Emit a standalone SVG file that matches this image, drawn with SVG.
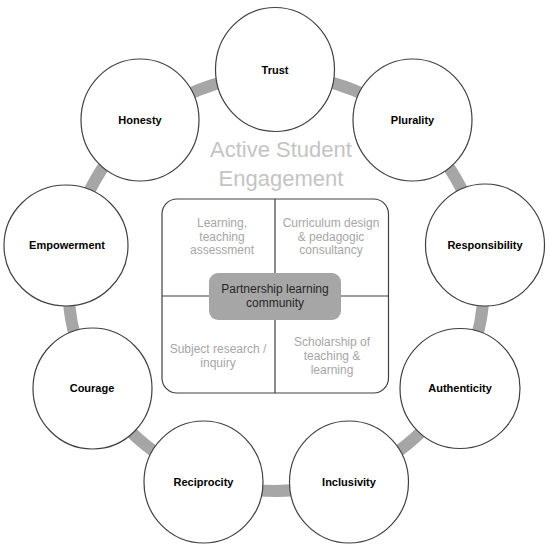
<svg xmlns="http://www.w3.org/2000/svg" width="550" height="549" viewBox="0 0 550 549">
<style>
.node{fill:#ffffff;stroke:#404040;stroke-width:1.2}
.lbl{font-family:"Liberation Sans",Arial,sans-serif;font-weight:bold;font-size:11px;fill:#000000;text-anchor:middle}
.ring{fill:none;stroke:#a6a6a6;stroke-width:12}
.quad{font-family:"Liberation Sans",Arial,sans-serif;font-size:12px;fill:#a6a6a6;text-anchor:middle}
.title{font-family:"Liberation Sans",Arial,sans-serif;font-size:22px;fill:#c4c4c4;text-anchor:middle}
.div{stroke:#404040;stroke-width:1.2;fill:none}
.core{font-family:"Liberation Sans",Arial,sans-serif;font-size:12px;fill:#262626;text-anchor:middle}
</style>
<rect width="550" height="549" fill="#ffffff"/>
<g id="connectors">
<circle class="ring" cx="276" cy="283" r="208"/>
</g>
<g id="trust"><ellipse class="node" cx="275" cy="69.5" rx="59.5" ry="62"/><text class="lbl" x="275" y="74">Trust</text></g>
<g id="plurality"><ellipse class="node" cx="412.5" cy="120" rx="59.5" ry="61"/><text class="lbl" x="412.5" y="124">Plurality</text></g>
<g id="responsibility"><ellipse class="node" cx="485" cy="245" rx="59.5" ry="61"/><text class="lbl" x="485" y="249">Responsibility</text></g>
<g id="authenticity"><ellipse class="node" cx="460" cy="388.5" rx="60" ry="60"/><text class="lbl" x="460" y="392">Authenticity</text></g>
<g id="inclusivity"><ellipse class="node" cx="349" cy="482" rx="59.5" ry="61"/><text class="lbl" x="349" y="486">Inclusivity</text></g>
<g id="reciprocity"><ellipse class="node" cx="203.5" cy="482" rx="59.5" ry="61"/><text class="lbl" x="203.5" y="486">Reciprocity</text></g>
<g id="courage"><ellipse class="node" cx="92.5" cy="388.5" rx="59.5" ry="60.5"/><text class="lbl" x="92" y="392">Courage</text></g>
<g id="empowerment"><ellipse class="node" cx="66" cy="245.5" rx="62" ry="60.5"/><text class="lbl" x="67" y="249">Empowerment</text></g>
<g id="honesty"><ellipse class="node" cx="140" cy="120" rx="59" ry="61"/><text class="lbl" x="140" y="124">Honesty</text></g>
<g id="title">
<text class="title" x="281" y="157">Active Student</text>
<text class="title" x="281" y="186">Engagement</text>
</g>
<g id="centre-box">
<rect x="162" y="199" width="226.5" height="194" rx="15" ry="15" fill="#ffffff" stroke="#404040" stroke-width="1.2"/>
<line class="div" x1="275" y1="199" x2="275" y2="393"/>
<line class="div" x1="162" y1="296" x2="388.5" y2="296"/>
</g>
<g id="q-learning"><text class="quad" x="222" y="227">Learning,</text><text class="quad" x="222" y="240.5">teaching</text><text class="quad" x="222" y="254">assessment</text></g>
<g id="q-curriculum"><text class="quad" x="331" y="227">Curriculum design</text><text class="quad" x="331" y="240.5">&amp; pedagogic</text><text class="quad" x="331" y="254">consultancy</text></g>
<g id="q-subject"><text class="quad" x="218" y="353">Subject research /</text><text class="quad" x="218" y="367">inquiry</text></g>
<g id="q-scholarship"><text class="quad" x="332" y="346">Scholarship of</text><text class="quad" x="332" y="360">teaching &amp;</text><text class="quad" x="332" y="374">learning</text></g>
<g id="partnership">
<rect x="209" y="273" width="132" height="47" rx="9" ry="9" fill="#a6a6a6"/>
<text class="core" x="275" y="293">Partnership learning</text>
<text class="core" x="275" y="307">community</text>
</g>
</svg>
